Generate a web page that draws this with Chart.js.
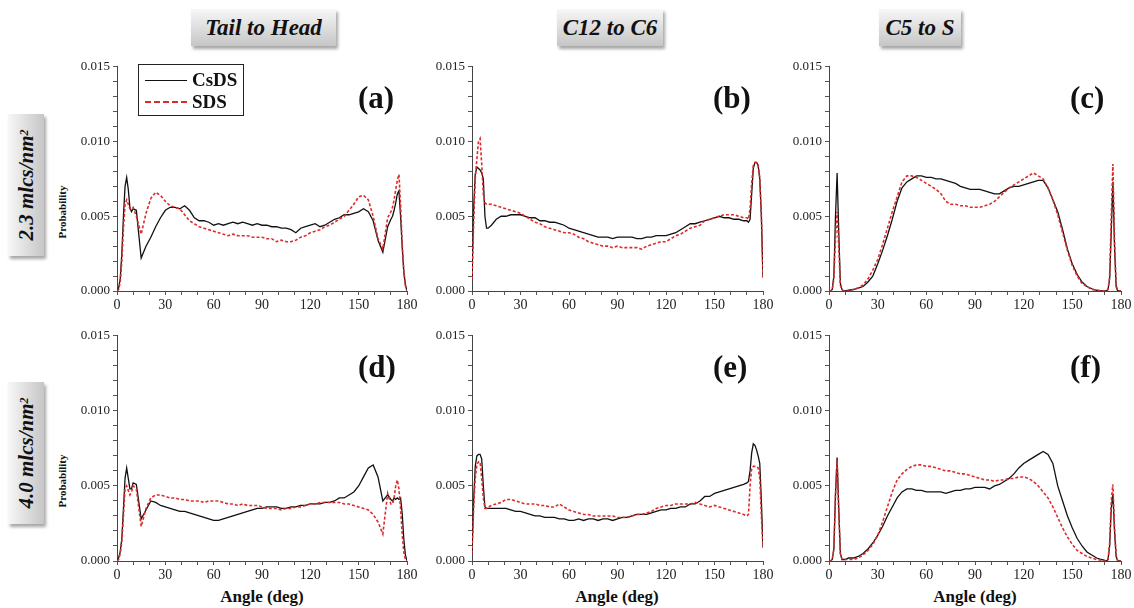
<!DOCTYPE html>
<html>
<head>
<meta charset="utf-8">
<script src="https://cdn.jsdelivr.net/npm/chart.js@4.4.1/dist/chart.umd.min.js"></script>
<style>
  html, body { margin: 0; padding: 0; background: #fff; }
  #fig { position: relative; width: 1134px; height: 608px; overflow: hidden;
         font-family: "Liberation Serif", "Times New Roman", serif; color: #111; }
  canvas { position: absolute; }
  .hdr { position: absolute; top: 9px; height: 37px; display: flex; align-items: center;
         justify-content: center; font-weight: bold; font-style: italic; font-size: 23px;
         background: linear-gradient(#f7f7f7, #c6c6c6); box-shadow: 2px 3px 3px rgba(0,0,0,0.35); }
  .rowlab { position: absolute; width: 142px; height: 36px; display: flex; align-items: center;
            justify-content: center; font-weight: bold; font-style: italic; font-size: 21px;
            white-space: nowrap; background: linear-gradient(#f7f7f7, #c6c6c6);
            box-shadow: -3px 2px 3px rgba(0,0,0,0.35); transform: rotate(-90deg); }
  .rowlab sup { font-size: 12px; position: relative; top: -2px; }
  .ylab { position: absolute; width: 80px; height: 14px; line-height: 14px; text-align: center;
          font-weight: bold; font-size: 11px; transform: rotate(-90deg); }
  .xlab { position: absolute; width: 160px; text-align: center; font-weight: bold; font-size: 17px; }
  .tag { position: absolute; font-weight: bold; font-size: 31px; line-height: 31px; }
  #legend { position: absolute; left: 138px; top: 64px; width: 104px; height: 50px;
            border: 1.5px solid #222; background: #fff; }
  #legend .item { position: absolute; left: 6px; height: 20px; display: flex; align-items: center;
                  font-weight: bold; font-size: 19px; }
  #legend .sw { width: 42px; margin-right: 5px; }
</style>
</head>
<body>
<div id="fig">
  <div class="hdr" style="left:191px;width:145px;">Tail to Head</div>
  <div class="hdr" style="left:557px;width:106px;">C12 to C6</div>
  <div class="hdr" style="left:879px;width:82px;">C5 to S</div>

  <div class="rowlab" style="left:-45px;top:167px;">2.3 mlcs/nm<sup>2</sup></div>
  <div class="rowlab" style="left:-45px;top:435px;">4.0 mlcs/nm<sup>2</sup></div>

  <div class="ylab" style="left:22px;top:205px;">Probability</div>
  <div class="ylab" style="left:22px;top:474px;">Probability</div>

  <div class="xlab" style="left:182px;top:587px;">Angle (deg)</div>
  <div class="xlab" style="left:537px;top:587px;">Angle (deg)</div>
  <div class="xlab" style="left:895px;top:587px;">Angle (deg)</div>
</div>

<script>
// Angle grid (deg): fine near both ends, every 3 deg in the middle
const angles = [0,1,2,3,4,5,6,7,8,9,10,
  12,15,18,21,24,27,30,33,36,39,
  42,45,48,51,54,57,60,63,66,69,
  72,75,78,81,84,87,90,93,96,99,
  102,105,108,111,114,117,120,123,126,129,
  132,135,138,141,144,147,150,153,156,159,
  162,165,168,
  170,171,172,173,174,175,176,177,178,179,180];

// Probabilities, in units of 1e-3
// (a) Tail to Head, 2.3 mlcs/nm2
const csdsA = [0,0.2,0.8,2.5,5.0,7.0,7.6,6.8,5.6,5.3,5.5,
  5.4,2.2,3.0,3.6,4.3,4.9,5.4,5.6,5.6,5.5,
  5.7,5.4,4.9,4.7,4.7,4.6,4.4,4.5,4.4,4.5,
  4.6,4.5,4.6,4.5,4.4,4.5,4.4,4.4,4.3,4.3,
  4.2,4.2,4.1,3.9,4.2,4.3,4.4,4.5,4.3,4.4,
  4.6,4.8,4.9,5.1,5.1,5.2,5.3,5.5,5.3,4.7,
  3.4,2.6,4.3,
  4.8,5.0,5.4,5.9,6.5,6.7,5.0,3.0,1.3,0.4,0];
const sdsA = [0,0.1,0.6,2.0,4.2,5.8,6.1,5.8,5.5,5.5,5.6,
  5.0,3.8,5.2,6.2,6.6,6.4,6.0,5.7,5.6,5.5,
  5.1,4.7,4.5,4.3,4.2,4.1,4.0,3.9,3.8,3.7,
  3.8,3.7,3.7,3.7,3.6,3.6,3.6,3.5,3.5,3.3,
  3.4,3.3,3.3,3.4,3.6,3.7,3.9,4.0,4.1,4.3,
  4.4,4.6,4.8,5.0,5.4,5.8,6.3,6.4,6.1,5.0,
  3.5,2.8,4.9,
  5.3,5.6,6.1,6.8,7.4,7.8,5.8,3.2,1.4,0.4,0];

// (b) C12 to C6, 2.3 mlcs/nm2
const csdsB = [0.8,5.5,7.8,8.3,8.2,8.1,7.9,7.5,5.0,4.2,4.2,
  4.4,4.8,5.0,5.0,5.1,5.1,5.1,5.0,4.9,4.9,
  4.7,4.7,4.6,4.6,4.5,4.4,4.2,4.1,4.0,3.9,
  3.8,3.7,3.6,3.6,3.6,3.5,3.6,3.6,3.6,3.6,
  3.5,3.5,3.6,3.6,3.7,3.7,3.7,3.8,3.9,4.1,
  4.3,4.5,4.5,4.6,4.7,4.8,4.9,5.0,4.9,4.9,
  4.8,4.8,4.7,
  4.7,4.6,4.8,6.5,8.2,8.6,8.6,8.4,7.5,5.0,0.9];
const sdsB = [0.8,4.5,7.5,8.8,10.0,10.2,8.5,6.5,5.9,5.8,5.8,
  5.8,5.7,5.6,5.5,5.4,5.3,5.2,5.0,4.8,4.6,
  4.5,4.3,4.2,4.1,4.0,3.9,3.9,3.8,3.6,3.5,
  3.3,3.2,3.1,3.0,3.0,2.9,3.0,2.9,2.9,2.9,
  2.9,2.8,3.0,3.1,3.2,3.3,3.3,3.5,3.7,3.8,
  4.0,4.2,4.3,4.4,4.7,4.8,4.9,5.0,5.1,5.1,
  5.1,5.0,4.9,
  4.9,4.8,5.5,7.2,8.4,8.6,8.6,8.4,7.6,5.0,0.9];

// (c) C5 to S, 2.3 mlcs/nm2
const csdsC = [0,0,0.1,1.0,5.0,7.9,4.0,0.5,0.1,0,0,
  0.05,0.1,0.2,0.3,0.6,1.0,1.8,2.7,3.7,4.8,
  6.0,6.9,7.3,7.5,7.7,7.7,7.6,7.6,7.5,7.5,
  7.4,7.3,7.2,7.0,6.9,6.8,6.8,6.8,6.7,6.6,
  6.5,6.5,6.7,6.9,7.0,7.0,7.1,7.2,7.3,7.4,
  7.4,6.9,6.1,5.3,4.1,2.8,1.8,1.1,0.6,0.3,
  0.15,0.05,0,
  0,0,0.1,0.8,4.0,7.3,3.0,0.3,0,0,0];
const sdsC = [0,0,0.1,0.8,3.5,5.3,3.0,0.4,0.1,0,0,
  0,0.1,0.2,0.4,0.8,1.4,2.1,3.1,4.2,5.3,
  6.3,7.3,7.7,7.7,7.6,7.4,7.2,7.0,6.8,6.5,
  6.0,5.8,5.8,5.7,5.7,5.6,5.6,5.6,5.7,5.8,
  6.0,6.3,6.6,6.9,7.1,7.3,7.5,7.7,7.9,7.7,
  7.5,6.9,6.1,5.1,3.9,2.7,1.7,1.0,0.5,0.3,
  0.1,0.05,0,
  0,0,0.1,1.0,5.0,8.5,3.5,0.4,0,0,0];

// (d) Tail to Head, 4.0 mlcs/nm2
const csdsD = [0,0.2,0.6,1.5,3.5,5.5,6.2,5.5,4.8,4.8,5.2,
  5.1,2.8,3.4,4.0,3.9,3.7,3.6,3.5,3.4,3.3,
  3.3,3.2,3.1,3.0,2.9,2.8,2.7,2.7,2.8,2.9,
  3.0,3.1,3.2,3.3,3.4,3.5,3.5,3.6,3.6,3.6,
  3.5,3.5,3.6,3.6,3.7,3.7,3.8,3.8,3.8,3.9,
  3.9,4.0,4.2,4.2,4.4,4.6,5.0,5.6,6.2,6.4,
  5.6,4.0,4.4,
  4.1,4.0,4.2,4.1,4.2,4.1,4.2,3.2,1.5,0.4,0];
const sdsD = [0,0.1,0.5,1.3,3.0,4.8,5.0,4.7,4.4,4.6,5.0,
  4.8,2.3,3.5,4.2,4.4,4.4,4.3,4.2,4.2,4.1,
  4.1,4.0,4.0,4.0,3.9,4.0,4.0,4.0,3.9,3.8,
  3.8,3.7,3.8,3.7,3.7,3.7,3.6,3.5,3.5,3.5,
  3.4,3.5,3.5,3.6,3.6,3.7,3.8,3.8,3.9,3.9,
  3.9,3.9,3.9,3.8,3.8,3.7,3.6,3.5,3.4,3.1,
  2.6,1.8,4.5,
  3.8,3.8,4.2,5.0,5.4,4.8,3.5,1.8,0.6,0.1,0];

// (e) C12 to C6, 4.0 mlcs/nm2
const csdsE = [0.5,4.0,6.3,7.0,7.1,7.1,6.8,5.0,3.6,3.5,3.5,
  3.5,3.5,3.5,3.5,3.4,3.3,3.3,3.2,3.1,3.0,
  3.0,2.9,2.9,2.9,2.8,2.8,2.7,2.7,2.8,2.7,
  2.8,2.8,2.7,2.8,2.8,2.7,2.8,2.9,2.9,3.0,
  3.1,3.1,3.1,3.2,3.3,3.4,3.4,3.5,3.5,3.6,
  3.6,3.8,3.8,4.0,4.3,4.3,4.5,4.6,4.7,4.8,
  4.9,5.0,5.1,
  5.2,5.3,6.0,7.2,7.8,7.7,7.4,7.0,6.5,4.0,0.9];
const sdsE = [0.5,3.5,5.5,6.4,6.6,6.6,5.5,4.2,3.5,3.5,3.6,
  3.7,3.8,3.9,4.1,4.1,4.0,3.9,3.8,3.8,3.8,
  3.7,3.7,3.6,3.6,3.8,3.6,3.4,3.3,3.2,3.1,
  3.1,3.0,3.0,3.0,3.0,3.0,2.9,2.9,2.9,3.0,
  3.1,3.1,3.2,3.3,3.5,3.6,3.7,3.7,3.8,3.8,
  3.8,3.8,3.9,3.8,3.7,3.6,3.7,3.6,3.5,3.4,
  3.3,3.2,3.1,
  3.0,3.1,5.0,6.2,6.3,6.3,6.3,6.2,5.5,3.0,0.9];

// (f) C5 to S, 4.0 mlcs/nm2
const csdsF = [0,0,0.1,0.8,4.5,6.9,3.5,0.5,0.1,0.1,0.1,
  0.2,0.2,0.3,0.5,0.8,1.2,1.7,2.3,3.0,3.6,
  4.2,4.6,4.8,4.8,4.7,4.7,4.6,4.6,4.6,4.6,
  4.5,4.6,4.7,4.7,4.8,4.8,4.9,4.9,4.9,4.8,
  5.0,5.1,5.3,5.5,5.8,6.2,6.5,6.7,6.9,7.1,
  7.3,7.1,6.5,5.0,4.0,3.0,2.2,1.5,1.0,0.6,
  0.4,0.2,0.1,
  0.05,0,0.1,1.0,3.5,4.5,2.0,0.3,0,0,0];
const sdsF = [0,0,0.1,0.8,4.3,6.7,3.3,0.5,0.1,0.1,0.1,
  0.1,0.1,0.2,0.4,0.7,1.1,1.7,2.6,3.6,4.6,
  5.4,5.8,6.1,6.3,6.4,6.4,6.3,6.3,6.2,6.1,
  6.0,6.0,5.9,5.8,5.8,5.7,5.6,5.5,5.4,5.4,
  5.3,5.4,5.4,5.5,5.5,5.6,5.6,5.5,5.3,5.0,
  4.6,4.2,3.6,2.9,2.2,1.6,1.1,0.7,0.5,0.3,
  0.2,0.1,0.05,
  0,0,0.1,1.2,4.0,5.1,2.3,0.4,0,0,0];

const panelTags = ['(a)','(b)','(c)','(d)','(e)','(f)'];
const seriesNames = ['CsDS', 'SDS'];
const yTickLabels = ['0.000','0.005','0.010','0.015'];
const xTickLabels = ['0','30','60','90','120','150','180'];

const panelSeries = [
  [csdsA, sdsA], [csdsB, sdsB], [csdsC, sdsC],
  [csdsD, sdsD], [csdsE, sdsE], [csdsF, sdsF]
];

// Plot-area placement on the page (px)
const colX = [[117, 407], [472, 763], [829, 1121]];
const rowY = [[66, 291], [335, 561]];
const AX_W = 55, AX_H = 24, PAD_T = 10, PAD_R = 15;

const fig = document.getElementById('fig');
const SERIF = '"Liberation Serif", "Times New Roman", serif';

function toPoints(vals) {
  return angles.map((a, i) => ({ x: a, y: vals[i] / 1000 }));
}

panelSeries.forEach((pair, idx) => {
  const r = Math.floor(idx / 3), c = idx % 3;
  const [x0, x1] = colX[c], [y0, y1] = rowY[r];
  const cv = document.createElement('canvas');
  const W = AX_W + (x1 - x0) + PAD_R, H = PAD_T + (y1 - y0) + AX_H;
  cv.width = W; cv.height = H;
  cv.style.left = (x0 - AX_W) + 'px';
  cv.style.top = (y0 - PAD_T) + 'px';
  cv.style.width = W + 'px'; cv.style.height = H + 'px';
  fig.appendChild(cv);

  new Chart(cv, {
    type: 'line',
    data: {
      datasets: [
        { label: seriesNames[0], data: toPoints(pair[0]), borderColor: '#111',
          borderWidth: 1.3, pointRadius: 0, tension: 0, fill: false, order: 2 },
        { label: seriesNames[1], data: toPoints(pair[1]), borderColor: '#dd2b2b',
          borderWidth: 1.6, borderDash: [3, 2], pointRadius: 0, tension: 0, fill: false, order: 1 }
      ]
    },
    options: {
      responsive: false, animation: false, devicePixelRatio: 1,
      layout: { padding: { top: PAD_T, right: PAD_R, left: 0, bottom: 0 } },
      plugins: { legend: { display: false }, tooltip: { enabled: false } },
      scales: {
        x: {
          type: 'linear', min: 0, max: 180,
          afterFit: s => { s.height = AX_H; },
          ticks: {
            stepSize: 10, autoSkip: false, maxRotation: 0, padding: 2, color: '#222',
            font: { family: SERIF, size: 14 },
            callback: v => xTickLabels.includes(String(v)) ? String(v) : ''
          },
          grid: { drawOnChartArea: false, tickLength: 4, color: '#555' },
          border: { color: '#444', width: 1 }
        },
        y: {
          min: 0, max: 0.015,
          afterFit: s => { s.width = AX_W; },
          ticks: {
            stepSize: 0.001, autoSkip: false, padding: 3, color: '#222',
            font: { family: SERIF, size: 13 },
            callback: v => {
              const t = v.toFixed(3);
              return yTickLabels.includes(t) ? t : '';
            }
          },
          grid: { drawOnChartArea: false, tickLength: 4, color: '#555' },
          border: { color: '#444', width: 1 }
        }
      }
    }
  });

  const tag = document.createElement('div');
  tag.className = 'tag';
  tag.textContent = panelTags[idx];
  tag.style.left = (x0 + 241) + 'px';
  tag.style.top = (y0 + 16) + 'px';
  fig.appendChild(tag);
});

// Legend inside panel (a)
const lg = document.createElement('div');
lg.id = 'legend';
lg.innerHTML =
  '<div class="item" style="top:5px;"><div class="sw" style="border-top:1.5px solid #111;"></div>' + seriesNames[0] + '</div>' +
  '<div class="item" style="top:27px;"><div class="sw" style="border-top:2px dashed #dd2b2b;"></div>' + seriesNames[1] + '</div>';
fig.appendChild(lg);
</script>
</body>
</html>
